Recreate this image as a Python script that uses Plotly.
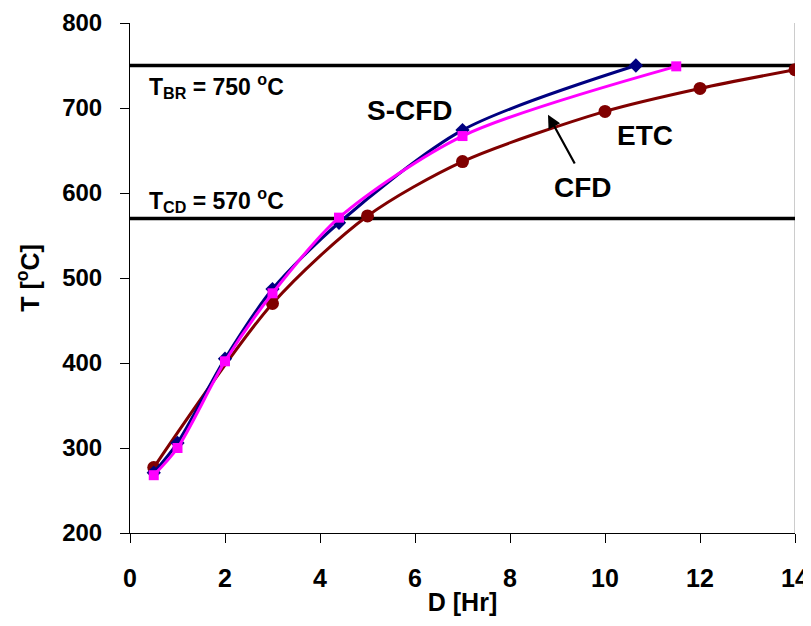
import plotly.graph_objects as go

# Data
scfd_x = [0.5, 1, 2, 3, 4.4, 7, 10.65]
scfd_y = [271, 306, 405, 487, 565, 674, 750]
cfd_x = [0.5, 1, 2, 3, 4.4, 7, 11.5]
cfd_y = [268, 300, 402, 482, 571, 667, 749]
etc_x = [0.5, 3, 5, 7, 10, 12, 14]
etc_y = [277, 470, 573, 637, 696, 723, 745]
t_br = 750
t_cd = 570
x_ticks = [0, 2, 4, 6, 8, 10, 12, 14]
y_ticks = [200, 300, 400, 500, 600, 700, 800]

FONT = "Liberation Sans, Arial, sans-serif"

fig = go.Figure()

fig.add_trace(go.Scatter(x=etc_x, y=etc_y, mode="lines+markers", name="ETC",
                         line=dict(color="#800000", width=3, shape="spline", smoothing=0.8),
                         marker=dict(symbol="circle", size=13, color="#800000")))
fig.add_trace(go.Scatter(x=scfd_x, y=scfd_y, mode="lines+markers", name="S-CFD",
                         line=dict(color="#000080", width=3, shape="spline", smoothing=0.8),
                         marker=dict(symbol="diamond", size=11, color="#000080")))
fig.add_trace(go.Scatter(x=cfd_x, y=cfd_y, mode="lines+markers", name="CFD",
                         line=dict(color="#FF00FF", width=3, shape="spline", smoothing=0.8),
                         marker=dict(symbol="square", size=10, color="#FF00FF")))

# reference lines
for yv in (t_br, t_cd):
    fig.add_shape(type="line", xref="x", yref="y", x0=-0.05, x1=14, y0=yv, y1=yv,
                  line=dict(color="black", width=3.5), layer="below")
# right border
fig.add_shape(type="line", xref="x", yref="paper", x0=14, x1=14, y0=0, y1=1,
              line=dict(color="#999999", width=1), layer="below")

ann_font = dict(family=FONT, size=23, color="black", weight="bold")
fig.add_annotation(x=0.36, y=726, xref="x", yref="y", xanchor="left", showarrow=False,
                   text="T<sub>BR</sub> = 750 <sup>o</sup>C", font=ann_font)
fig.add_annotation(x=0.36, y=592, xref="x", yref="y", xanchor="left", showarrow=False,
                   text="T<sub>CD</sub> = 570 <sup>o</sup>C", font=ann_font)
big_font = dict(family=FONT, size=28, color="black", weight="bold")
fig.add_annotation(x=5.9, y=697, xref="x", yref="y", showarrow=False, text="S-CFD", font=big_font)
fig.add_annotation(x=10.84, y=668, xref="x", yref="y", showarrow=False, text="ETC", font=big_font)
fig.add_annotation(x=9.54, y=607, xref="x", yref="y", showarrow=False, text="CFD", font=big_font)
fig.add_annotation(x=8.8, y=692, ax=9.38, ay=633, xref="x", yref="y", axref="x", ayref="y",
                   text="", showarrow=True, arrowhead=2, arrowsize=1.2, arrowwidth=2.2,
                   arrowcolor="black")

tick_font = dict(family=FONT, size=25, color="black", weight="bold")
ytick_font = dict(family=FONT, size=24, color="black", weight="bold")
fig.update_layout(
    width=803, height=610,
    margin=dict(l=122, r=16, t=15, b=85),
    plot_bgcolor="white", paper_bgcolor="white",
    showlegend=False,
    xaxis=dict(range=[0, 14], tickvals=x_ticks, ticks="outside", ticklen=9,
               tickcolor="black", showline=True, linecolor="black", linewidth=1,
               showgrid=False, zeroline=False, tickfont=tick_font, automargin=False,
               ticklabelstandoff=14,
               title=dict(text="D [Hr]", font=tick_font, standoff=2)),
    yaxis=dict(range=[200, 800], tickvals=y_ticks, ticks="outside", ticklen=9,
               tickcolor="black", showline=True, linecolor="black", linewidth=1,
               showgrid=False, zeroline=False, tickfont=ytick_font, automargin=False,
               ticklabeloverflow="allow", ticklabelstandoff=13,
               title=dict(text="T [<sup>o</sup>C]", font=tick_font, standoff=15)),
)

fig.write_html("out.html")
